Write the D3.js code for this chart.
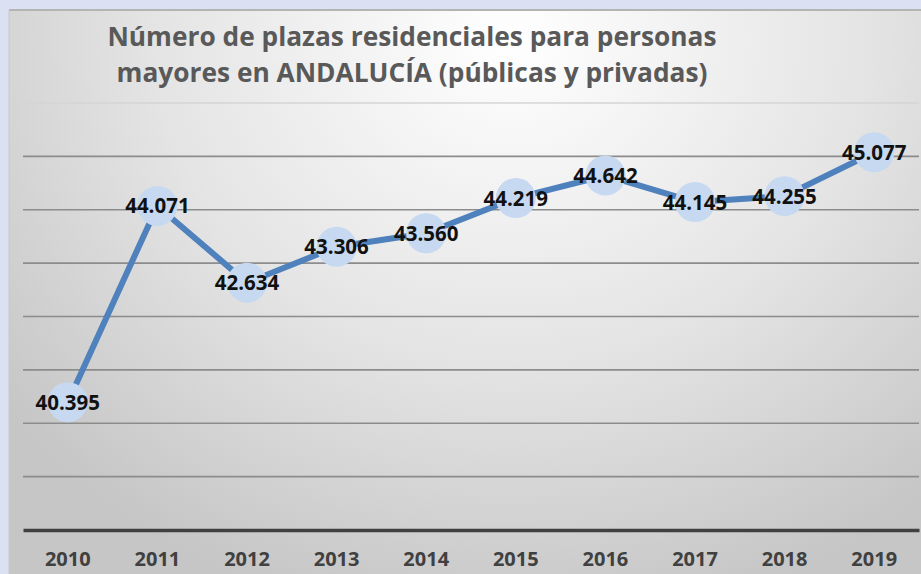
<!DOCTYPE html>
<html>
<head>
<meta charset="utf-8">
<script src="https://cdn.jsdelivr.net/npm/d3@7"></script>
<style>
  html, body { margin: 0; padding: 0; background: #dbe1f3; }
  svg { display: block; }
</style>
</head>
<body>
<script>
const years = ["2010", "2011", "2012", "2013", "2014", "2015", "2016", "2017", "2018", "2019"];
const plazas = [40.395, 44.071, 42.634, 43.306, 43.560, 44.219, 44.642, 44.145, 44.255, 45.077];
const titleLines = ["Número de plazas residenciales para personas", "mayores en ANDALUCÍA (públicas y privadas)"];
const gridTicks = [38, 39, 40, 41, 42, 43, 44, 45, 46];

const width = 921, height = 574;
const panelLeft = 9, panelTop = 10;
const marginLeft = 23, marginRight = 2, marginTop = 103, marginBottom = 44;

const svg = d3.select("body").append("svg")
    .attr("width", width)
    .attr("height", height)
    .attr("viewBox", [0, 0, width, height]);

// panel background gradient
const defs = svg.append("defs");
const grad = defs.append("radialGradient")
    .attr("id", "bg")
    .attr("cx", "55%").attr("cy", "5%")
    .attr("r", "95%")
    .attr("gradientTransform", "translate(0.55,0.05) scale(0.75,1.1) translate(-0.55,-0.05)");
grad.append("stop").attr("offset", "0%").attr("stop-color", "#ffffff");
grad.append("stop").attr("offset", "55%").attr("stop-color", "#e4e4e4");
grad.append("stop").attr("offset", "100%").attr("stop-color", "#c6c6c6");

svg.append("rect")
    .attr("x", panelLeft).attr("y", panelTop)
    .attr("width", width - panelLeft).attr("height", height - panelTop)
    .attr("fill", "url(#bg)");
svg.append("line")
    .attr("x1", panelLeft).attr("x2", width)
    .attr("y1", panelTop).attr("y2", panelTop)
    .attr("stroke", "#b4b4b4").attr("stroke-width", 2);
svg.append("line")
    .attr("x1", panelLeft).attr("x2", panelLeft)
    .attr("y1", panelTop).attr("y2", height)
    .attr("stroke", "#c8c8c8").attr("stroke-width", 1);

// title
svg.append("g")
    .selectAll("text")
    .data(titleLines)
    .join("text")
    .attr("x", 412)
    .attr("y", (d, i) => 46 + i * 36)
    .attr("text-anchor", "middle")
    .attr("font-family", "'Open Sans', sans-serif")
    .attr("font-weight", "bold")
    .attr("font-size", 26.3)
    .attr("fill", "#595959")
    .text(d => d);

// scales
const x = d3.scaleBand()
    .domain(years)
    .range([marginLeft, width - marginRight]);

const y = d3.scaleLinear()
    .domain([38, 46])
    .range([height - marginBottom, marginTop]);

// gridlines
svg.append("g")
    .selectAll("line")
    .data(gridTicks.slice(1))
    .join("line")
    .attr("x1", marginLeft).attr("x2", width - marginRight)
    .attr("y1", d => y(d)).attr("y2", d => y(d))
    .attr("stroke", d => d === 46 ? "#d4d4d4" : "#8c8c8c")
    .attr("stroke-width", 1.6);

// x axis
svg.append("g")
    .attr("transform", `translate(0,${y(38)})`)
    .call(d3.axisBottom(x).tickSize(0).tickPadding(22))
    .call(g => g.select(".domain").attr("stroke", "#404040").attr("stroke-width", 3.5))
    .call(g => g.selectAll("text")
        .attr("font-family", "'Open Sans', sans-serif")
        .attr("font-weight", "bold")
        .attr("font-size", 20)
        .attr("fill", "#404040"));

const cx = (d, i) => x(years[i]) + x.bandwidth() / 2;

// line
svg.append("path")
    .datum(plazas)
    .attr("fill", "none")
    .attr("stroke", "#4f81bd")
    .attr("stroke-width", 6)
    .attr("stroke-linejoin", "round")
    .attr("d", d3.line().x(cx).y(d => y(d)));

// markers
svg.append("g")
    .selectAll("circle")
    .data(plazas)
    .join("circle")
    .attr("cx", cx)
    .attr("cy", d => y(d))
    .attr("r", 20)
    .attr("fill", "#c6d9f1");

// labels
svg.append("g")
    .selectAll("text")
    .data(plazas)
    .join("text")
    .attr("x", cx)
    .attr("y", d => y(d) + 7.5)
    .attr("text-anchor", "middle")
    .attr("font-family", "'Open Sans', sans-serif")
    .attr("font-weight", "bold")
    .attr("font-size", 20.5)
    .attr("fill", "#111111")
    .text(d => d.toFixed(3));
</script>
</body>
</html>
